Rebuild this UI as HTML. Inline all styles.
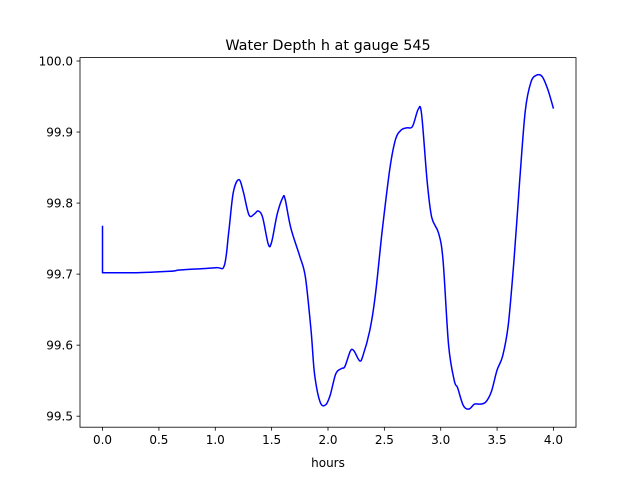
<!DOCTYPE html>
<html><head><meta charset="utf-8"><style>
body{margin:0;background:#fff;font-family:"Liberation Sans","DejaVu Sans",sans-serif;}
svg text{font-family:"DejaVu Sans","Liberation Sans",sans-serif;}
</style></head><body>
<svg id="chart" width="640" height="480" xmlns="http://www.w3.org/2000/svg">
<rect width="640" height="480" fill="#fff"/>
<g id="ticks"></g>
<path id="series" fill="none" stroke="#0000ff" stroke-width="1.5" stroke-linejoin="round"/>
<rect x="80" y="57.6" width="496" height="369.6" fill="none" stroke="#000" stroke-width="0.8"/>
<text x="328" y="50" text-anchor="middle" font-size="14.4">Water Depth h at gauge 545</text>
<text x="328" y="467" text-anchor="middle" font-size="12">hours</text>
</svg>
<script>
const hours=[0,0,0.3,0.6,0.7,1.0,1.08,1.12,1.16,1.21,1.25,1.3,1.35,1.38,1.42,1.47,1.5,1.55,1.6,1.62,1.67,1.75,1.8,1.85,1.88,1.93,1.98,2.02,2.07,2.12,2.15,2.2,2.23,2.28,2.31,2.37,2.42,2.48,2.55,2.6,2.65,2.7,2.75,2.8,2.83,2.88,2.92,2.98,3.02,3.07,3.12,3.15,3.2,3.25,3.3,3.35,3.4,3.45,3.5,3.55,3.6,3.65,3.7,3.75,3.8,3.85,3.9,3.95,4.0];
const depth=[99.768,99.702,99.702,99.704,99.706,99.709,99.712,99.76,99.815,99.833,99.815,99.783,99.785,99.789,99.78,99.742,99.745,99.785,99.808,99.805,99.765,99.725,99.695,99.62,99.56,99.52,99.516,99.53,99.56,99.567,99.57,99.592,99.592,99.578,99.585,99.62,99.67,99.76,99.85,99.89,99.903,99.906,99.908,99.932,99.925,99.83,99.78,99.758,99.72,99.6,99.55,99.54,99.515,99.51,99.517,99.517,99.52,99.535,99.565,99.585,99.63,99.72,99.83,99.93,99.97,99.98,99.978,99.96,99.933];
const xTicks=[0,0.5,1,1.5,2,2.5,3,3.5,4];
const xTickLabels=["0.0","0.5","1.0","1.5","2.0","2.5","3.0","3.5","4.0"];
const yTicks=[99.5,99.6,99.7,99.8,99.9,100.0];
const yTickLabels=["99.5","99.6","99.7","99.8","99.9","100.0"];
const X0=80,X1=576,Y0=427.2,Y1=57.6,xmin=-0.2,xmax=4.2,ymin=99.4845,ymax=100.0048;
function sx(v){return X0+(v-xmin)/(xmax-xmin)*(X1-X0);}
function sy(v){return Y0-(v-ymin)/(ymax-ymin)*(Y0-Y1);}
const NS="http://www.w3.org/2000/svg",g=document.getElementById('ticks');
xTicks.forEach((t,i)=>{
 const l=document.createElementNS(NS,'line');
 
 
 l.setAttribute('x1',sx(t));l.setAttribute('x2',sx(t));l.setAttribute('y1',Y0);l.setAttribute('y2',Y0+3.5);l.setAttribute('stroke','#000');l.setAttribute('stroke-width','0.8');g.appendChild(l);
 const tx=document.createElementNS(NS,'text');
 
 
 tx.setAttribute('x',sx(t));tx.setAttribute('y',Y0+17);tx.setAttribute('text-anchor','middle');tx.setAttribute('font-size','12');tx.textContent=xTickLabels[i];g.appendChild(tx);
});
yTicks.forEach((t,i)=>{
 const l=document.createElementNS(NS,'line');
 
 
 l.setAttribute('x1',X0-3.5);l.setAttribute('x2',X0);l.setAttribute('y1',sy(t));l.setAttribute('y2',sy(t));l.setAttribute('stroke','#000');l.setAttribute('stroke-width','0.8');g.appendChild(l);
 const tx=document.createElementNS(NS,'text');
 
 
 tx.setAttribute('x',X0-7);tx.setAttribute('y',sy(t)+4.5);tx.setAttribute('text-anchor','end');tx.setAttribute('font-size','12');tx.textContent=yTickLabels[i];g.appendChild(tx);
});
const P=hours.map((h,i)=>[sx(h),sy(depth[i])]);
let d='M'+P[0][0].toFixed(1)+','+P[0][1].toFixed(1);
for(let i=0;i<P.length-1;i++){
 const p0=P[Math.max(i-1,0)],p1=P[i],p2=P[i+1],p3=P[Math.min(i+2,P.length-1)];
 if(i<2){d+=' L'+p2[0].toFixed(1)+','+p2[1].toFixed(1);continue;}
 const c1=[p1[0]+(p2[0]-p0[0])/6,p1[1]+(p2[1]-p0[1])/6];
 const c2=[p2[0]-(p3[0]-p1[0])/6,p2[1]-(p3[1]-p1[1])/6];
 d+=' C'+c1[0].toFixed(1)+','+c1[1].toFixed(1)+' '+c2[0].toFixed(1)+','+c2[1].toFixed(1)+' '+p2[0].toFixed(1)+','+p2[1].toFixed(1);
}
document.getElementById('series').setAttribute('d',d);
</script>
</body></html>
